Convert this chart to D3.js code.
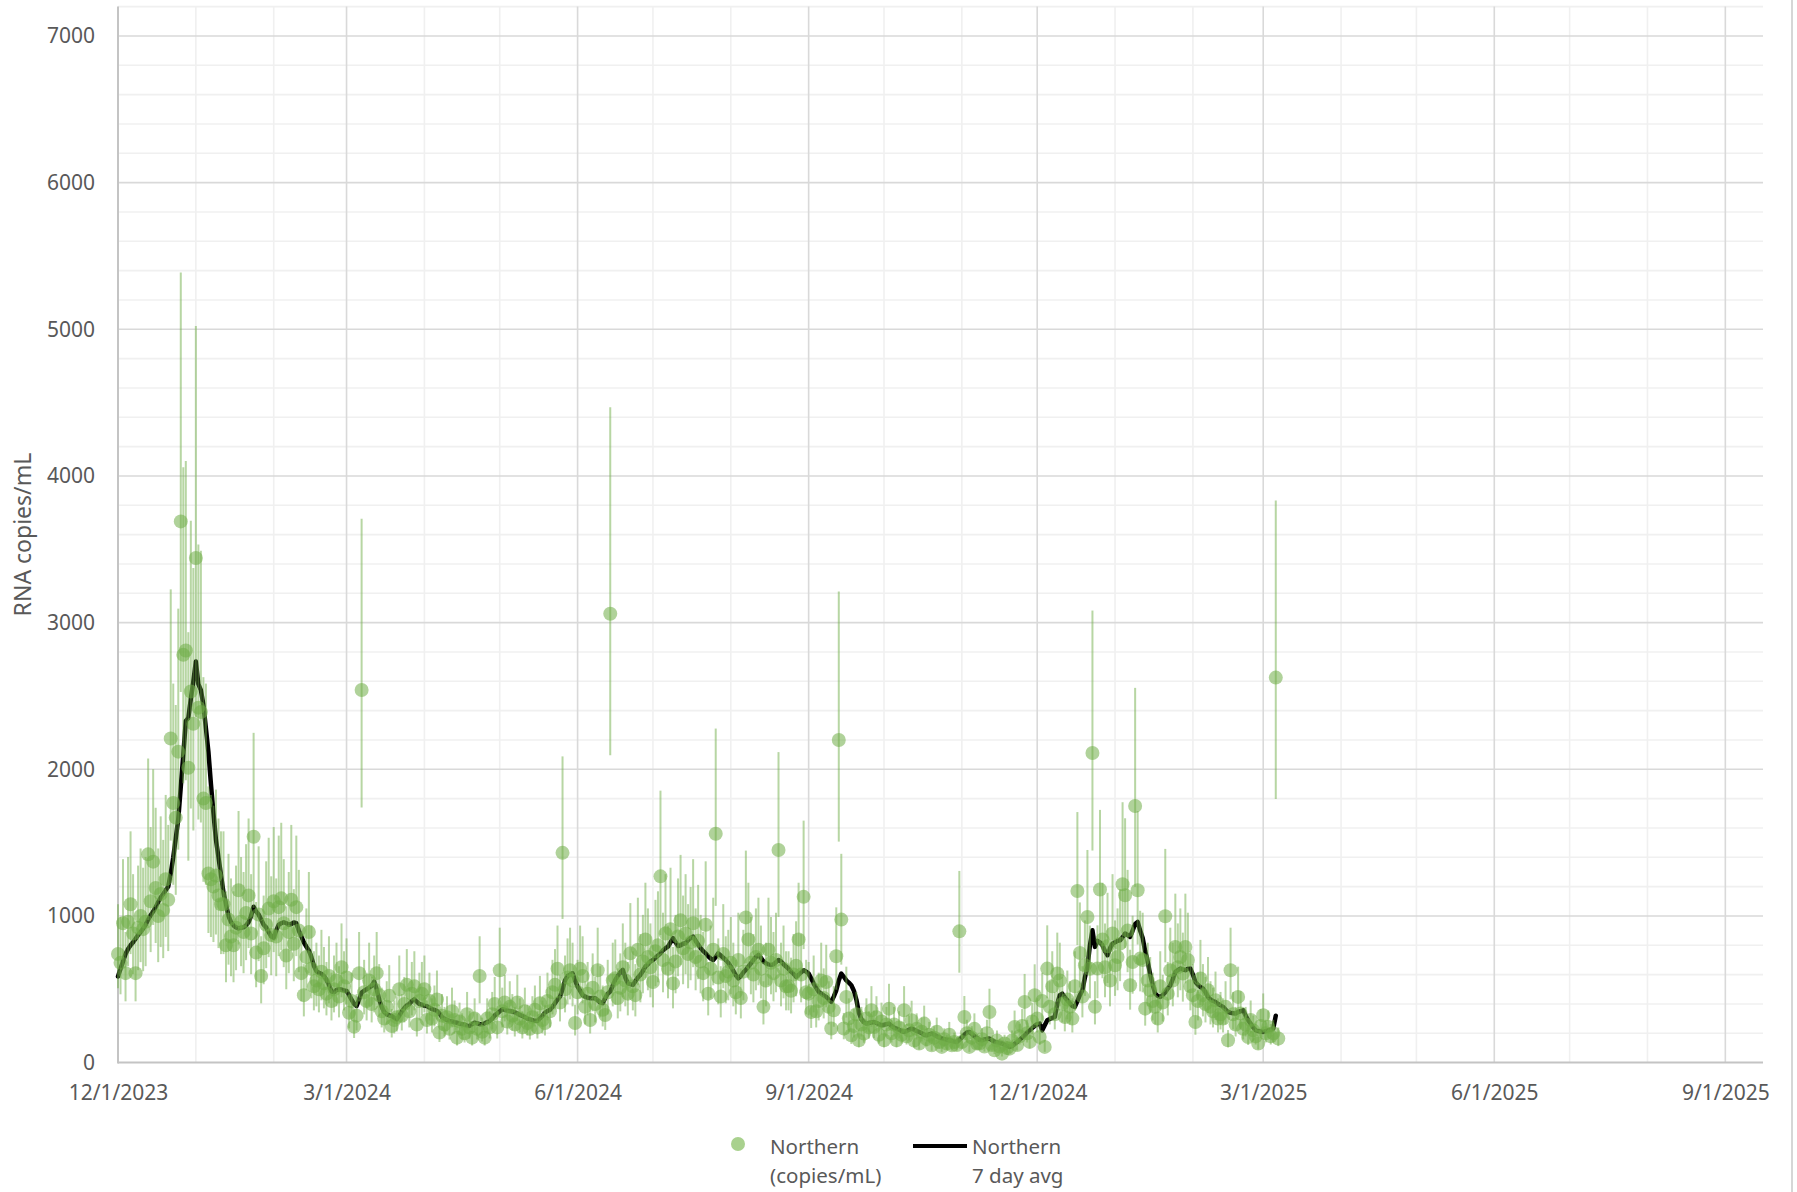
<!DOCTYPE html>
<html>
<head>
<meta charset="utf-8">
<script src="https://cdn.jsdelivr.net/npm/d3@7"></script>
<style>
  body { margin: 0; background: #fff; }
  svg { font-family: "Noto Sans", sans-serif; }
  .tick text { fill: #595959; font-size: 21px; }
</style>
</head>
<body>
<div id="cont"></div>
<script>

// daily samples starting at this date
var startDate = "2023-12-01";

// Northern, RNA copies/mL, one value per day
var northern = [
  740, 680, 950, 610, 960, 1080, 880, 610, 920, 1000,
  910, 960, 1420, 1100, 1370, 1190, 1000, 1150, 1040, 1250,
  1110, 2210, 1770, 1670, 2120, 3690, 2780, 2810, 2010, 2530,
  2310, 3440, 2420, 2390, 1800, 1770, 1290, 1250, 1200, 1275,
  1140, 1080, 1080, 800, 975, 860, 800, 920, 1175, 960,
  890, 1020, 1140, 880, 1540, 750, 1010, 590, 780, 940,
  1050, 870, 1100, 860, 1060, 1120, 950, 730, 890, 1110,
  810, 1060, 900, 610, 460, 720, 890, 640, 520, 560,
  500, 620, 540, 470, 590, 420, 500, 560, 450, 650,
  520, 580, 340, 420, 245, 320, 610, 2540, 480, 420,
  560, 400, 500, 610, 460, 350, 300, 380, 455, 250,
  290, 310, 500, 320, 400, 530, 350, 470, 520, 260,
  420, 470, 500, 290, 420, 300, 360, 430, 205, 320,
  260, 310, 230, 350, 290, 170, 280, 230, 200, 330,
  240, 170, 300, 230, 590, 210, 170, 300, 240, 330,
  400, 240, 630, 350, 410, 280, 380, 320, 260, 410,
  300, 240, 350, 270, 230, 310, 360, 240, 405, 290,
  270, 420, 350, 480, 530, 640, 410, 1430, 500, 580,
  630, 560, 270, 480, 640, 590, 380, 470, 290, 510,
  400, 630, 450, 360, 325, 480, 3060, 560, 575, 440,
  510, 650, 560, 470, 745, 520, 460, 770, 600, 690,
  840, 720, 650, 550, 760, 800, 1270, 700, 880, 640,
  910, 540, 690, 860, 970, 780, 880, 740, 820, 950,
  720, 830, 690, 610, 940, 470, 640, 770, 1560, 580,
  450, 740, 590, 620, 680, 560, 480, 700, 440, 620,
  990, 840, 680, 600, 720, 770, 640, 380, 560, 770,
  680, 610, 700, 1450, 560, 640, 520, 520, 490, 600,
  660, 840, 600, 1130, 480, 470, 345, 500, 350, 420,
  560, 440, 550, 380, 232, 357, 725, 2200, 975, 232,
  448, 300, 186, 250, 330, 152, 260, 198, 300, 240,
  357, 243, 310, 190, 280, 152, 260, 368, 200, 260,
  152, 240, 190, 357, 180, 220, 289, 150, 230, 130,
  210, 266, 160, 190, 118, 170, 210, 140, 107, 160,
  130, 190, 118, 140, 120, 895, 140, 311, 200, 107,
  170, 230, 130, 130, 160, 110, 200, 345, 120, 84,
  150, 110, 61, 130, 100, 95, 150, 243, 120, 180,
  250, 414, 200, 141, 280, 459, 300, 175, 420, 107,
  641, 380, 520, 330, 607, 560, 400, 311, 430, 380,
  300, 520, 1170, 748, 450, 664, 993, 640, 2111, 380,
  641, 1180, 840, 650, 793, 560, 880, 664, 720, 811,
  1216, 1141, 900, 527, 686, 1750, 1175, 709, 700, 368,
  560, 493, 420, 380, 300, 520, 410, 998, 470, 630,
  560, 789, 650, 720, 607, 789, 700, 520, 460, 277,
  420, 573, 460, 400, 493, 380, 350, 425, 300, 330,
  300, 380, 152, 630, 330, 260, 448, 334, 230, 260,
  175, 290, 220, 180, 130, 250, 323, 200, 243, 180,
  200, 2625, 164
];

// Northern 7 day average, same days
var avg7 = [
  588, 640, 690, 740, 775, 800, 820, 845, 870, 890,
  915, 940, 975, 1005, 1030, 1060, 1095, 1125, 1150, 1175,
  1200, 1290, 1400, 1530, 1660, 1880, 2100, 2330, 2350, 2480,
  2600, 2735, 2580, 2540, 2440, 2280, 2120, 1900, 1700, 1520,
  1400, 1280, 1160, 1080, 1000, 957, 935, 922, 915, 920,
  922, 935, 957, 1000, 1063, 1030, 1010, 975, 940, 922,
  890, 860, 852, 900, 940, 950, 957, 950, 940, 945,
  955, 950, 900, 860, 820, 790, 765, 720, 660, 625,
  612, 605, 590, 565, 530, 485, 480, 495, 500, 498,
  492, 489, 460, 430, 400, 386, 430, 477, 490, 500,
  510, 523, 552, 500, 430, 380, 345, 330, 322, 318,
  305, 295, 320, 350, 372, 390, 400, 420, 432, 415,
  400, 395, 388, 385, 375, 365, 360, 352, 335, 310,
  300, 290, 284, 280, 275, 272, 265, 262, 258, 252,
  250, 262, 273, 268, 262, 261, 268, 276, 284, 300,
  322, 335, 350, 364, 360, 355, 352, 348, 342, 335,
  325, 318, 310, 300, 295, 290, 285, 284, 302, 318,
  340, 352, 359, 380, 405, 430, 450, 500, 560, 590,
  600, 609, 560, 518, 490, 461, 450, 442, 439, 440,
  439, 425, 410, 405, 440, 470, 484, 525, 564, 590,
  615, 632, 580, 541, 535, 530, 555, 580, 598, 625,
  655, 670, 690, 700, 715, 730, 745, 765, 780, 791,
  820, 848, 820, 795, 800, 810, 814, 835, 850, 859,
  830, 805, 780, 760, 745, 725, 710, 700, 720, 745,
  730, 715, 700, 680, 655, 625, 595, 575, 590, 615,
  632, 655, 677, 700, 720, 734, 715, 690, 677, 670,
  666, 670, 685, 700, 690, 670, 655, 640, 620, 605,
  584, 600, 615, 630, 620, 607, 575, 539, 510, 482,
  470, 458, 448, 430, 414, 450, 493, 560, 607, 585,
  561, 545, 527, 490, 430, 340, 295, 275, 266, 270,
  273, 277, 270, 262, 255, 258, 262, 266, 250, 238,
  232, 225, 215, 209, 215, 225, 232, 225, 215, 209,
  200, 190, 186, 192, 198, 190, 180, 172, 164, 160,
  156, 152, 148, 143, 141, 155, 172, 190, 205, 209,
  195, 180, 168, 155, 152, 158, 162, 164, 152, 142,
  138, 133, 130, 122, 114, 107, 112, 128, 140, 155,
  170, 185, 205, 220, 235, 250, 262, 266, 220, 255,
  289, 298, 305, 311, 400, 460, 470, 445, 425, 405,
  385, 380, 420, 460, 493, 580, 652, 800, 902, 789,
  830, 820, 800, 760, 732, 780, 811, 820, 830, 834,
  855, 880, 870, 857, 900, 945, 959, 900, 850, 760,
  690, 600, 530, 470, 455, 448, 460, 480, 505, 527,
  570, 618, 630, 641, 635, 630, 640, 641, 600, 550,
  530, 515, 505, 480, 448, 430, 420, 414, 400, 390,
  380, 362, 345, 340, 337, 334, 345, 350, 357, 320,
  289, 265, 240, 220, 215, 212, 209, 215, 220, 225,
  232, 320, null
];

// error bars are value x/÷ this factor
var ciFactor = 1.46;

var yTicks = [0, 1000, 2000, 3000, 4000, 5000, 6000, 7000];
var yMax = 7200;
var xTickLabels = ["12/1/2023", "3/1/2024", "6/1/2024", "9/1/2024",
  "12/1/2024", "3/1/2025", "6/1/2025", "9/1/2025"];
var xEnd = "2025-09-16";

var legendDots = ["Northern", "(copies/mL)"];
var legendLine = ["Northern", "7 day avg"];
var yTitle = "RNA copies/mL";


var W = 1797, H = 1192;
var plotLeft = 118, plotRight = 1763, plotTop = 6.6, plotBottom = 1062.6;

var parseIso = d3.timeParse("%Y-%m-%d");
var parseUs = d3.timeParse("%m/%d/%Y");
var start = parseIso(startDate);

var points = northern.map(function(v, i) {
  return { date: d3.timeDay.offset(start, i), value: v };
});
var avgPoints = avg7.map(function(v, i) {
  return { date: d3.timeDay.offset(start, i), value: v };
});

var xScale = d3.scaleTime()
  .domain([start, parseIso(xEnd)])
  .range([plotLeft, plotRight]);
var yScale = d3.scaleLinear()
  .domain([0, yMax])
  .range([plotBottom, plotTop]);

var svg = d3.select("#cont").append("svg")
  .attr("width", W)
  .attr("height", H);

svg.append("rect")
  .attr("width", W).attr("height", H)
  .attr("fill", "#fff");

// minor grid: 200 steps and months
var minorY = d3.range(200, yMax + 1, 200).filter(function(v) { return v % 1000 != 0; });
var majorX = xTickLabels.map(parseUs);
var minorX = d3.timeMonth.range(start, parseIso(xEnd)).filter(function(d) {
  return !majorX.some(function(m) { return +m == +d; });
});

var grid = svg.append("g");

grid.selectAll(".minor-y")
  .data(minorY)
  .enter().append("line")
  .attr("x1", plotLeft).attr("x2", plotRight)
  .attr("y1", function(d) { return yScale(d); })
  .attr("y2", function(d) { return yScale(d); })
  .attr("stroke", "#f0f0f0")
  .attr("stroke-width", 1.6);

grid.selectAll(".minor-x")
  .data(minorX)
  .enter().append("line")
  .attr("x1", function(d) { return xScale(d); })
  .attr("x2", function(d) { return xScale(d); })
  .attr("y1", plotTop).attr("y2", plotBottom)
  .attr("stroke", "#f0f0f0")
  .attr("stroke-width", 1.6);

grid.selectAll(".major-y")
  .data(yTicks.slice(1))
  .enter().append("line")
  .attr("x1", plotLeft).attr("x2", plotRight)
  .attr("y1", function(d) { return yScale(d); })
  .attr("y2", function(d) { return yScale(d); })
  .attr("stroke", "#d9d9d9")
  .attr("stroke-width", 1.6);

grid.selectAll(".major-x")
  .data(majorX.slice(1))
  .enter().append("line")
  .attr("x1", function(d) { return xScale(d); })
  .attr("x2", function(d) { return xScale(d); })
  .attr("y1", plotTop).attr("y2", plotBottom)
  .attr("stroke", "#d9d9d9")
  .attr("stroke-width", 1.6);

// axes
var yAxis = svg.append("g")
  .attr("transform", "translate(" + plotLeft + ",0)")
  .call(d3.axisLeft(yScale)
    .tickValues(yTicks)
    .tickSize(0)
    .tickPadding(23)
    .tickFormat(d3.format("d")));
yAxis.select(".domain").remove();

var xAxis = svg.append("g")
  .attr("transform", "translate(0," + plotBottom + ")")
  .call(d3.axisBottom(xScale)
    .tickValues(majorX)
    .tickSize(0)
    .tickPadding(22.5)
    .tickFormat(d3.timeFormat("%-m/%-d/%Y")));
xAxis.select(".domain").remove();
svg.selectAll(".tick text").attr("font-family", "Noto Sans");

svg.append("line")
  .attr("x1", plotLeft).attr("x2", plotLeft)
  .attr("y1", plotTop).attr("y2", plotBottom + 1)
  .attr("stroke", "#c4c4c4").attr("stroke-width", 2);
svg.append("line")
  .attr("x1", plotLeft).attr("x2", plotRight)
  .attr("y1", plotBottom).attr("y2", plotBottom)
  .attr("stroke", "#c4c4c4").attr("stroke-width", 2);

// chart frame edge on the right
svg.append("line")
  .attr("x1", 1792).attr("x2", 1792)
  .attr("y1", 0).attr("y2", H)
  .attr("stroke", "#d6d6d6").attr("stroke-width", 2);

svg.append("text")
  .attr("transform", "translate(31," + ((plotTop + plotBottom) / 2) + ") rotate(-90)")
  .attr("text-anchor", "middle")
  .attr("fill", "#595959")
  .style("font-size", "23px")
  .text(yTitle);

// 7 day avg line
var line = d3.line()
  .defined(function(d) { return d.value != null; })
  .x(function(d) { return xScale(d.date); })
  .y(function(d) { return yScale(d.value); });

svg.append("path")
  .datum(avgPoints)
  .attr("d", line)
  .attr("fill", "none")
  .attr("stroke", "#000")
  .attr("stroke-width", 4.5)
  .attr("stroke-linejoin", "round")
  .attr("stroke-linecap", "round");

// error bars
svg.append("g").selectAll("line")
  .data(points)
  .enter().append("line")
  .attr("x1", function(d) { return xScale(d.date); })
  .attr("x2", function(d) { return xScale(d.date); })
  .attr("y1", function(d) { return yScale(d.value / ciFactor); })
  .attr("y2", function(d) { return yScale(Math.min(d.value * ciFactor, yMax)); })
  .attr("stroke", "#70ad47")
  .attr("stroke-opacity", 0.5)
  .attr("stroke-width", 2);

// samples
svg.append("g").selectAll("circle")
  .data(points)
  .enter().append("circle")
  .attr("cx", function(d) { return xScale(d.date); })
  .attr("cy", function(d) { return yScale(d.value); })
  .attr("r", 7)
  .attr("fill", "#70ad47")
  .attr("fill-opacity", 0.55);

// legend
var legend = svg.append("g")
  .attr("fill", "#595959")
  .style("font-size", "20.5px");

legend.append("circle")
  .attr("cx", 738).attr("cy", 1144)
  .attr("r", 7)
  .attr("fill", "#a9d18e");

legend.append("text")
  .selectAll("tspan")
  .data(legendDots)
  .enter().append("tspan")
  .attr("x", 770)
  .attr("y", function(d, i) { return 1154 + i * 29; })
  .text(function(d) { return d; });

legend.append("line")
  .attr("x1", 913).attr("x2", 967)
  .attr("y1", 1146).attr("y2", 1146)
  .attr("stroke", "#000")
  .attr("stroke-width", 4);

legend.append("text")
  .selectAll("tspan")
  .data(legendLine)
  .enter().append("tspan")
  .attr("x", 972)
  .attr("y", function(d, i) { return 1154 + i * 29; })
  .text(function(d) { return d; });

</script>
</body>
</html>
